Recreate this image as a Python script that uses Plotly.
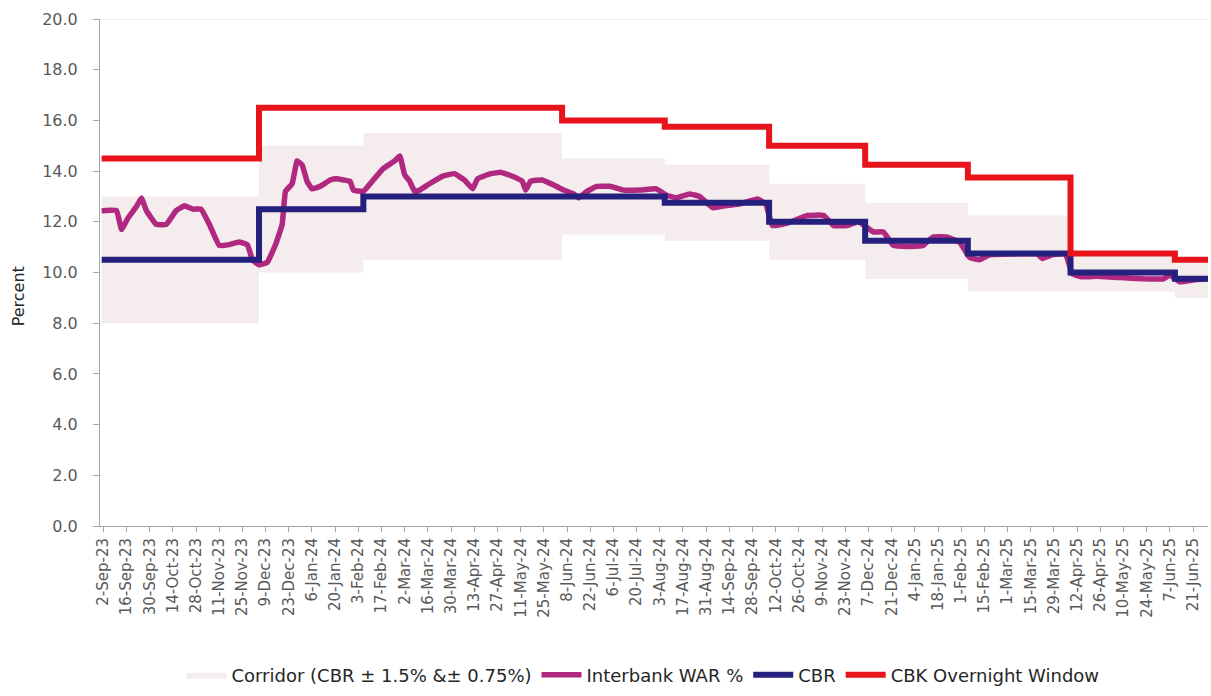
import plotly.graph_objects as go

# ---- Data ----
war_dates = [
    "2023-09-01", "2023-09-10", "2023-09-13", "2023-09-17", "2023-09-22", "2023-09-25",
    "2023-09-28", "2023-10-04", "2023-10-10", "2023-10-16", "2023-10-21", "2023-10-26",
    "2023-10-31", "2023-11-05", "2023-11-11", "2023-11-17", "2023-11-23", "2023-11-28",
    "2023-12-01", "2023-12-05", "2023-12-10", "2023-12-15", "2023-12-19", "2023-12-21",
    "2023-12-25", "2023-12-28", "2023-12-31", "2024-01-03", "2024-01-06", "2024-01-11",
    "2024-01-17", "2024-01-21", "2024-01-25", "2024-01-29", "2024-01-31", "2024-02-06",
    "2024-02-12", "2024-02-18", "2024-02-25", "2024-02-28", "2024-03-02", "2024-03-05",
    "2024-03-08", "2024-03-11", "2024-03-17", "2024-03-25", "2024-04-01", "2024-04-07",
    "2024-04-12", "2024-04-15", "2024-04-23", "2024-04-29", "2024-05-06", "2024-05-12",
    "2024-05-14", "2024-05-17", "2024-05-24", "2024-05-31", "2024-06-06", "2024-06-12",
    "2024-06-15", "2024-06-20", "2024-06-26", "2024-07-04", "2024-07-12", "2024-07-22",
    "2024-08-01", "2024-08-07", "2024-08-13", "2024-08-21", "2024-08-27", "2024-09-04",
    "2024-09-13", "2024-09-20", "2024-10-01", "2024-10-06", "2024-10-10", "2024-10-19",
    "2024-10-31", "2024-11-10", "2024-11-16", "2024-11-24", "2024-12-01", "2024-12-10",
    "2024-12-16", "2024-12-22", "2025-01-01", "2025-01-09", "2025-01-15", "2025-01-23",
    "2025-01-31", "2025-02-06", "2025-02-12", "2025-02-18", "2025-03-02", "2025-03-19",
    "2025-03-22", "2025-03-28", "2025-04-05", "2025-04-09", "2025-04-15", "2025-04-24",
    "2025-05-08", "2025-05-22", "2025-06-03", "2025-06-07", "2025-06-13", "2025-06-21",
    "2025-06-30",
]
war_values = [
    12.44, 12.44, 11.70, 12.16, 12.60, 12.94,
    12.44, 11.90, 11.90, 12.44, 12.63, 12.50,
    12.50, 11.90, 11.07, 11.10, 11.20, 11.10,
    10.50, 10.30, 10.40, 11.10, 11.90, 13.20,
    13.50, 14.40, 14.25, 13.60, 13.30, 13.40,
    13.65, 13.70, 13.65, 13.60, 13.25, 13.20,
    13.65, 14.10, 14.40, 14.60, 13.85, 13.60,
    13.20, 13.25, 13.50, 13.80, 13.90, 13.65,
    13.30, 13.70, 13.90, 13.95, 13.80, 13.60,
    13.25, 13.60, 13.65, 13.45, 13.25, 13.10,
    12.95, 13.20, 13.40, 13.40, 13.25, 13.25,
    13.30, 13.05, 12.95, 13.10, 13.00, 12.55,
    12.65, 12.70, 12.90, 12.70, 11.85, 11.95,
    12.25, 12.25, 11.85, 11.85, 12.00, 11.60,
    11.60, 11.07, 11.03, 11.07, 11.40, 11.40,
    11.20, 10.60, 10.50, 10.70, 10.73, 10.73,
    10.55, 10.70, 10.73, 9.95, 9.83, 9.85,
    9.80, 9.75, 9.75, 9.90, 9.63, 9.70,
    9.75,
]

step_dates = [
    "2023-09-01", "2023-12-05", "2024-02-06", "2024-06-05", "2024-08-06",
    "2024-10-08", "2024-12-05", "2025-02-05", "2025-04-08", "2025-06-10", "2025-06-30",
]
cbr_values = [10.5, 12.5, 13.0, 13.0, 12.75, 12.0, 11.25, 10.75, 10.0, 9.75, 9.75]
cbk_window_values = [14.5, 16.5, 16.5, 16.0, 15.75, 15.0, 14.25, 13.75, 10.75, 10.5, 10.5]
corridor_upper = [13.0, 15.0, 15.5, 14.5, 14.25, 13.5, 12.75, 12.25, 10.75, 10.5, 10.5]
corridor_lower = [8.0, 10.0, 10.5, 11.5, 11.25, 10.5, 9.75, 9.25, 9.25, 9.0, 9.0]

y_ticks = [0, 2, 4, 6, 8, 10, 12, 14, 16, 18, 20]

# ---- Styles ----
FONT = "DejaVu Sans"
TXT = "#595959"
C_CORR = "#f4eced"
C_WAR = "#b0287f"
C_CBR = "#25207d"
C_CBK = "#e8141c"

fig = go.Figure()

fig.add_trace(go.Scatter(
    x=step_dates, y=corridor_lower, mode="lines", line=dict(width=0, shape="hv"),
    showlegend=False, hoverinfo="skip",
))
fig.add_trace(go.Scatter(
    x=step_dates, y=corridor_upper, mode="lines", line=dict(width=0, shape="hv"),
    fill="tonexty", fillcolor=C_CORR, name="Corridor (CBR ± 1.5% &± 0.75%)",
))
fig.add_trace(go.Scatter(
    x=war_dates, y=war_values, mode="lines", name="Interbank WAR %",
    line=dict(color=C_WAR, width=5.5, shape="spline", smoothing=0.3),
))
fig.add_trace(go.Scatter(
    x=step_dates, y=cbr_values, mode="lines", name="CBR",
    line=dict(color=C_CBR, width=6, shape="hv"),
))
fig.add_trace(go.Scatter(
    x=step_dates, y=cbk_window_values, mode="lines", name="CBK Overnight Window",
    line=dict(color=C_CBK, width=6, shape="hv"),
))

fig.add_shape(type="line", xref="paper", yref="y", x0=0, x1=1, y0=20, y1=20,
              line=dict(color="#e4e4e4", width=1), layer="below")

fig.add_annotation(
    text="Percent", xref="paper", yref="paper", x=-0.074, y=0.453,
    xanchor="center", yanchor="middle", textangle=-90, showarrow=False,
    font=dict(family=FONT, size=16, color="#262626"),
)

fig.update_layout(
    width=1211, height=696,
    margin=dict(l=100, r=3, t=19, b=163),
    paper_bgcolor="white", plot_bgcolor="white",
    font=dict(family=FONT, color=TXT, size=14),
    showlegend=True,
    legend=dict(orientation="h", traceorder="normal", x=0.49, xanchor="center",
                y=-0.294, yanchor="middle",
                font=dict(family=FONT, size=18, color="#262626"),
                itemwidth=40, tracegroupgap=0),
    xaxis=dict(
        type="date", range=["2023-08-31", "2025-06-30"], automargin=False,
        tick0="2023-09-02", dtick=14 * 86400000, tickformat="%-d-%b-%y",
        tickangle=-90, showgrid=False, zeroline=False,
        showline=True, linecolor="#a6a6a6", linewidth=1,
        ticks="outside", ticklen=5, tickcolor="#a6a6a6",
        tickfont=dict(family=FONT, size=15, color=TXT),
    ),
    yaxis=dict(
        range=[0, 20], tickvals=y_ticks, tickformat=".1f", automargin=False,
        showgrid=False, zeroline=False,
        showline=True, linecolor="#a6a6a6", linewidth=1,
        ticks="outside", ticklen=6, tickcolor="#a6a6a6", ticklabelstandoff=12,
        tickfont=dict(family=FONT, size=16, color=TXT),
    ),
)

fig.write_html(
    "out.html",
    config={"displayModeBar": False},
    post_script="document.body.style.margin='0';document.body.style.overflow='hidden';",
)
